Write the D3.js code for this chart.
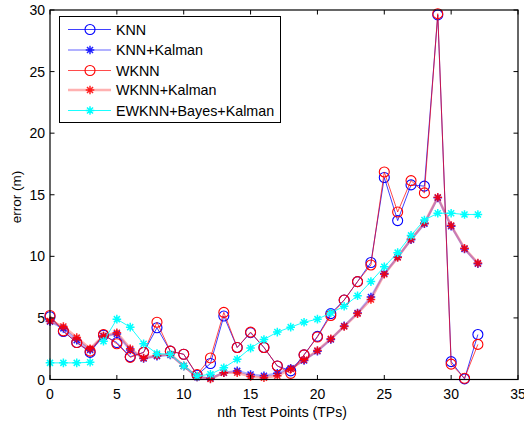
<!DOCTYPE html>
<html><head><meta charset="utf-8">
<script src="https://cdn.jsdelivr.net/npm/d3@7"></script>
<style>body{margin:0;background:#fff}svg{display:block}text{font-family:"Liberation Sans",Arial,sans-serif}</style>
</head><body><svg id="c" width="524" height="425"></svg>
<script>
const xs = d3.range(0, 33);
const knn = [5.1,3.9,3.0,2.2,3.6,3.0,1.85,2.2,4.2,2.3,2.05,0.35,1.3,5.15,2.6,3.8,2.6,1.1,0.7,2.0,3.5,5.35,6.45,7.95,9.5,16.4,12.9,15.8,15.7,29.6,1.45,0.05,3.65];
const knnK = [4.7,4.15,3.2,2.4,3.5,3.7,2.4,1.7,1.9,2.0,1.1,0.2,0.1,0.55,0.7,0.4,0.3,0.5,0.9,1.55,2.3,3.25,4.35,5.4,6.7,8.6,9.95,11.35,12.65,14.75,12.45,10.6,9.4];
const wknn = [5.2,3.95,3.0,2.3,3.65,2.9,1.8,2.2,4.65,2.3,2.05,0.4,1.75,5.45,2.6,3.85,2.6,1.1,0.5,2.0,3.45,5.2,6.45,7.95,9.3,16.85,13.6,16.15,15.15,29.7,1.25,0.1,2.85];
const wknnK = [4.75,4.3,3.4,2.5,3.55,3.8,2.5,1.75,1.95,2.05,1.1,0.2,0.05,0.55,0.55,0.25,0.15,0.3,0.85,1.6,2.35,3.3,4.3,5.35,6.5,8.55,9.9,11.4,12.7,14.8,12.5,10.65,9.45];
const ewknn = [1.35,1.35,1.35,1.4,3.1,4.9,4.25,2.9,2.1,2.05,1.1,0.27,0.43,0.95,1.65,2.55,3.25,3.85,4.25,4.65,4.9,5.4,5.95,6.8,7.95,9.15,10.3,11.7,12.95,13.5,13.5,13.4,13.4];
const ewknnGapAfter = [3];
const xTicks = [0,5,10,15,20,25,30,35];
const yTicks = [0,5,10,15,20,25,30];
const labels = ["KNN","KNN+Kalman","WKNN","WKNN+Kalman","EWKNN+Bayes+Kalman"];

const series = [
  {name:labels[0], vals:knn, color:"#0000ff", lw:1, lo:0.75, marker:"o", mo:1},
  {name:labels[1], vals:knnK, color:"#0000ff", lw:2.2, lo:0.3, marker:"*", mo:0.85},
  {name:labels[2], vals:wknn, color:"#ff0000", lw:1, lo:0.7, marker:"o", mo:1},
  {name:labels[3], vals:wknnK, color:"#ff0000", lw:2.6, lo:0.3, marker:"*", mo:0.85},
  {name:labels[4], vals:ewknn, color:"#00ffff", lw:1, lo:0.9, marker:"*", mo:1, gaps:ewknnGapAfter}
];

const svg = d3.select("#c");
const L=50, R=518, T=10, B=379.5;
const x = d3.scaleLinear().domain([0,35]).range([L,R]);
const y = d3.scaleLinear().domain([0,30]).range([B,T]);

function star(g, cx, cy, color, op){
  const s=4.3;
  const p = `M${cx-s},${cy}L${cx+s},${cy}M${cx},${cy-s}L${cx},${cy+s}M${cx-s*0.7},${cy-s*0.7}L${cx+s*0.7},${cy+s*0.7}M${cx-s*0.7},${cy+s*0.7}L${cx+s*0.7},${cy-s*0.7}`;
  g.append("path").attr("d",p).attr("stroke",color).attr("stroke-width",1.5).attr("fill","none").attr("opacity",op);
}
function circ(g,cx,cy,color,op){
  g.append("circle").attr("cx",cx).attr("cy",cy).attr("r",5).attr("fill","none").attr("stroke",color).attr("stroke-width",1.1).attr("opacity",op);
}

const plot = svg.append("g");
series.forEach(s=>{
  const gaps = s.gaps||[];
  const line = d3.line().x(d=>x(d[0])).y(d=>y(d[1]));
  let segs=[[]];
  s.vals.forEach((v,i)=>{segs[segs.length-1].push([xs[i],v]); if(gaps.includes(xs[i])) segs.push([]);});
  segs.forEach(seg=>{
    plot.append("path").attr("d",line(seg)).attr("fill","none").attr("stroke",s.color)
      .attr("stroke-width",s.lw).attr("opacity",s.lo).attr("stroke-linejoin","round");
  });
  s.vals.forEach((v,i)=>{
    if(s.marker==="o") circ(plot,x(xs[i]),y(v),s.color,s.mo); else star(plot,x(xs[i]),y(v),s.color,s.mo);
  });
});

// axes box
const ax = svg.append("g").attr("stroke","#000").attr("fill","none");
ax.append("rect").attr("x",L).attr("y",T).attr("width",R-L).attr("height",B-T).attr("stroke-width",1.2);
const tl=4.5;
xTicks.forEach(t=>{
  ax.append("line").attr("x1",x(t)).attr("x2",x(t)).attr("y1",B).attr("y2",B-tl);
  ax.append("line").attr("x1",x(t)).attr("x2",x(t)).attr("y1",T).attr("y2",T+tl);
});
yTicks.forEach(t=>{
  ax.append("line").attr("x1",L).attr("x2",L+tl).attr("y1",y(t)).attr("y2",y(t));
  ax.append("line").attr("x1",R).attr("x2",R-tl).attr("y1",y(t)).attr("y2",y(t));
});
xTicks.forEach(t=>{
  svg.append("text").attr("x",x(t)).attr("y",398.5).attr("text-anchor","middle").attr("font-size",14).text(t);
});
yTicks.forEach(t=>{
  svg.append("text").attr("x",45).attr("y",y(t)+5).attr("text-anchor","end").attr("font-size",14).text(t);
});
svg.append("text").attr("x",282).attr("y",417).attr("text-anchor","middle").attr("font-size",14).text("nth Test Points (TPs)");
svg.append("text").attr("transform","translate(21,197) rotate(-90)").attr("text-anchor","middle").attr("font-size",13.5).text("error (m)");

// legend
const lg = svg.append("g");
lg.append("rect").attr("x",59.5).attr("y",16.5).attr("width",221).attr("height",106).attr("fill","#fff").attr("stroke","#000").attr("stroke-width",1);
const ly = [29.5,50,70.5,90,110.5];
series.forEach((s,i)=>{
  lg.append("line").attr("x1",68).attr("x2",111).attr("y1",ly[i]).attr("y2",ly[i]).attr("stroke",s.color).attr("stroke-width",s.lw).attr("opacity",s.lo);
  if(s.marker==="o") circ(lg,90,ly[i],s.color,1); else star(lg,90,ly[i],s.color,s.mo);
  lg.append("text").attr("x",116).attr("y",ly[i]+5).attr("font-size",14.3).text(s.name);
});
</script></body></html>
